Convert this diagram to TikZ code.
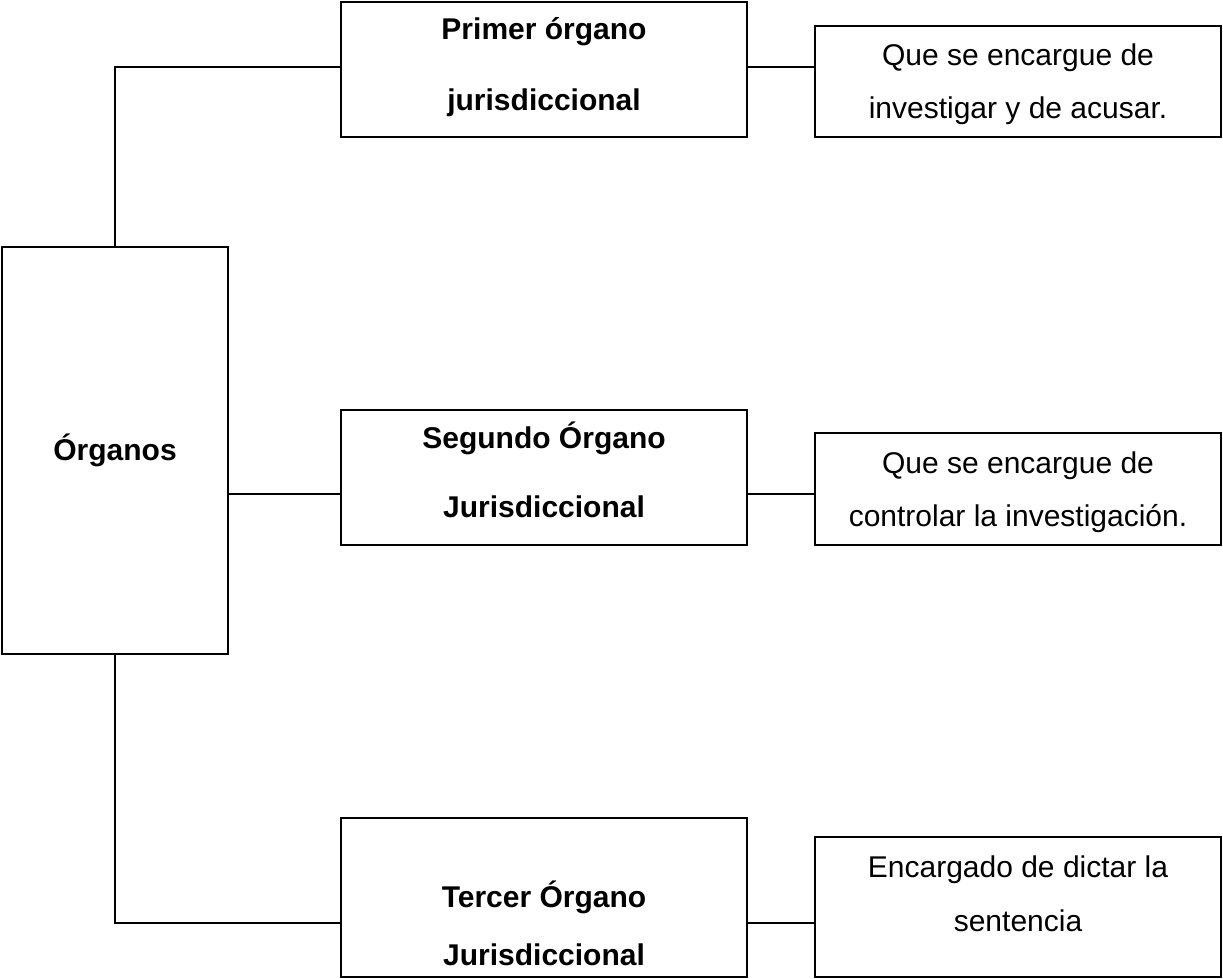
\documentclass[tikz,border=0pt]{standalone}
\usepackage{fontspec}
\setmainfont{Liberation Sans}
\usetikzlibrary{calc}
\begin{document}
\begin{tikzpicture}[x=1pt,y=-1pt,
  box/.style={draw,line width=1.5pt,inner sep=0pt,fill=white},
  link/.style={line width=1.5pt},
  lbl/.style={font=\fontsize{30}{36}\selectfont\bfseries,inner sep=0pt,anchor=base},
  txt/.style={font=\fontsize{30}{36}\selectfont,inner sep=0pt,anchor=base}]
\useasboundingbox (0,0) rectangle (1223,979);
% boxes
\node[box,minimum width=226pt,minimum height=407pt] (org) at (115,450.5) {};
\node[box,minimum width=406pt,minimum height=135pt] (p1) at (544,69.5) {};
\node[box,minimum width=406pt,minimum height=111pt] (r1) at (1018,81.5) {};
\node[box,minimum width=406pt,minimum height=135pt] (p2) at (544,477.5) {};
\node[box,minimum width=406pt,minimum height=112pt] (r2) at (1018,489) {};
\node[box,minimum width=406pt,minimum height=159pt] (p3) at (544,897.5) {};
\node[box,minimum width=406pt,minimum height=140pt] (r3) at (1018,907) {};
% texts
\node[lbl] (torg) at (115,460) {Órganos};
\node[lbl] (tp1a) at (544,40) {Primer órgano};
\node[lbl] (tp1b) at (544,111) {jurisdiccional};
\node[txt] (tr1a) at (1018,66) {Que se encargue de};
\node[txt] (tr1b) at (1018,119) {investigar y de acusar.};
\node[lbl] (tp2a) at (544,448) {Segundo Órgano};
\node[lbl] (tp2b) at (544,517) {Jurisdiccional};
\node[txt] (tr2a) at (1018,473) {Que se encargue de};
\node[txt] (tr2b) at (1018,526) {controlar la investigación.};
\node[lbl] (tp3a) at (544,907) {Tercer Órgano};
\node[lbl] (tp3b) at (544,965) {Jurisdiccional};
\node[txt] (tr3a) at (1018,877) {Encargado de dictar la};
\node[txt] (tr3b) at (1018,931) {sentencia};
% connector anchors
\coordinate (p1in) at ([yshift=2.5pt]p1.west);
\coordinate (p2in) at ([yshift=-16.5pt]p2.west);
\coordinate (p3in) at ([yshift=-25.5pt]p3.west);
% connectors
\draw[link] (org.north) |- (p1in);
\draw[link] (org.east |- p2in) -- (p2in);
\draw[link] (org.south) |- (p3in);
\draw[link] (p1.east |- p1in) -- (r1.west |- p1in);
\draw[link] (p2.east |- p2in) -- (r2.west |- p2in);
\draw[link] (p3.east |- p3in) -- (r3.west |- p3in);
\end{tikzpicture}
\end{document}
